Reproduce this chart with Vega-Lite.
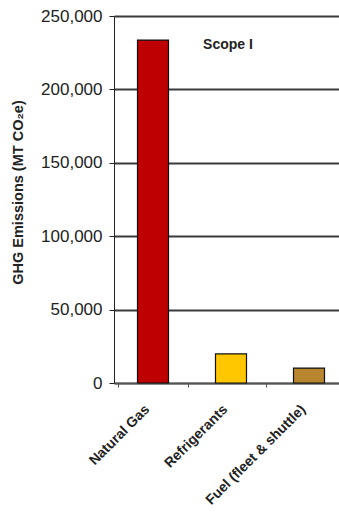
{
  "$schema": "https://vega.github.io/schema/vega-lite/v6.json",
  "autosize": "none",
  "width": 225,
  "height": 367,
  "padding": {"left": 114, "top": 16, "right": 0, "bottom": 138},
  "background": "white",
  "config": {"view": {"stroke": null}, "font": "Liberation Sans"},
  "layer": [
    {
      "data": {"values": [
        {"source": "Natural Gas", "emissions": 233600},
        {"source": "Refrigerants", "emissions": 19800},
        {"source": "Fuel (fleet & shuttle)", "emissions": 10200}
      ]},
      "mark": {"type": "bar", "size": 31, "stroke": "#111", "strokeWidth": 1.2},
      "encoding": {
        "x": {
          "field": "source", "type": "nominal", "sort": null,
          "scale": {"domain": ["Natural Gas", "Refrigerants", "Fuel (fleet & shuttle)"], "range": [0, 234]},
          "axis": {
            "title": null, "labelAngle": -45, "labelFont": "Liberation Sans", "labelFontWeight": "bold",
            "labelFontSize": 14, "labelColor": "#222", "labelPadding": 15, "labelOffset": -11,
            "domainColor": "#555", "domainWidth": 1.5, "tickColor": "#555", "tickSize": 4, "tickBand": "extent",
            "grid": false
          }
        },
        "y": {
          "field": "emissions", "type": "quantitative",
          "scale": {"domain": [0, 250000], "nice": false},
          "axis": {
            "title": "GHG Emissions (MT CO₂e)", "titleFont": "Liberation Sans", "titleFontSize": 14.5,
            "titleFontWeight": "bold", "titleColor": "#222", "titlePadding": 15, "titleY": 176,
            "values": [0, 50000, 100000, 150000, 200000, 250000], "format": ",.0f",
            "labelFont": "Liberation Sans", "labelFontSize": 17, "labelColor": "#222", "labelPadding": 7,
            "tickSize": 5, "tickColor": "#222", "domainColor": "#222", "domainWidth": 1,
            "grid": true, "gridColor": "#3a3a3a", "gridWidth": 2
          }
        },
        "color": {
          "field": "source", "type": "nominal", "sort": null,
          "scale": {"domain": ["Natural Gas", "Refrigerants", "Fuel (fleet & shuttle)"], "range": ["#BF0000", "#FFC700", "#B8862E"]},
          "legend": null
        }
      }
    },
    {
      "data": {"values": [{"source": "Refrigerants", "y": 230000, "label": "Scope I"}]},
      "mark": {"type": "text", "font": "Liberation Sans", "fontWeight": "bold", "fontSize": 14, "color": "#222", "align": "center", "baseline": "middle", "dx": -3},
      "encoding": {
        "x": {"field": "source", "type": "nominal"},
        "y": {"field": "y", "type": "quantitative"},
        "text": {"field": "label"}
      }
    }
  ]
}
